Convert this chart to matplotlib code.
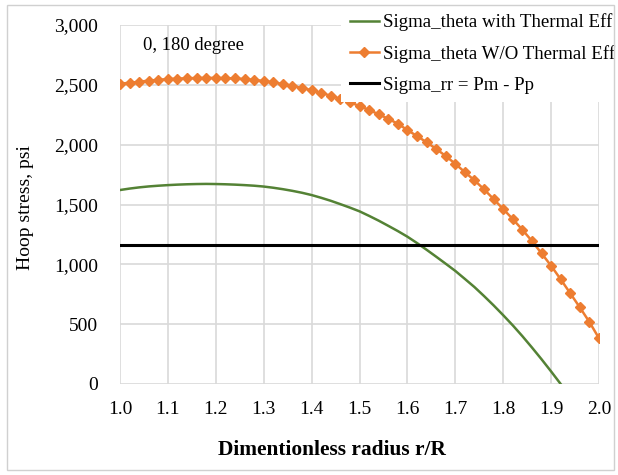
import matplotlib.pyplot as plt
import matplotlib.patches as patches
from matplotlib.ticker import FuncFormatter, MultipleLocator

# x positions (dimensionless radius r/R), step 0.02
r_ratio = [1.00, 1.02, 1.04, 1.06, 1.08, 1.10, 1.12, 1.14, 1.16, 1.18,
           1.20, 1.22, 1.24, 1.26, 1.28, 1.30, 1.32, 1.34, 1.36, 1.38,
           1.40, 1.42, 1.44, 1.46, 1.48, 1.50, 1.52, 1.54, 1.56, 1.58,
           1.60, 1.62, 1.64, 1.66, 1.68, 1.70, 1.72, 1.74, 1.76, 1.78,
           1.80, 1.82, 1.84, 1.86, 1.88, 1.90, 1.92, 1.94, 1.96, 1.98,
           2.00]

# hoop stress with thermal effect (psi)
sigma_thermal = [1621, 1633, 1643, 1651, 1657, 1662, 1666, 1669, 1671, 1672,
                 1671, 1669, 1666, 1662, 1657, 1650, 1640, 1628, 1614, 1598,
                 1579, 1556, 1531, 1503, 1474, 1443, 1405, 1365, 1322, 1278,
                 1231, 1178, 1122, 1064, 1005, 945, 878, 810, 735, 657,
                 575, 490, 400, 305, 207, 105, 0, -110, -225, -345,
                 -470]

# hoop stress without thermal effect (psi)
sigma_no_thermal = [2510, 2517, 2526, 2535, 2542, 2548, 2552, 2555, 2557, 2558,
                    2558, 2556, 2553, 2548, 2541, 2532, 2520, 2507, 2492, 2474,
                    2455, 2433, 2409, 2383, 2354, 2323, 2290, 2254, 2216, 2175,
                    2122, 2072, 2020, 1965, 1905, 1840, 1770, 1702, 1627, 1545,
                    1462, 1378, 1289, 1195, 1092, 988, 875, 758, 640, 518,
                    382]

# radial stress Pm - Pp (psi), constant
sigma_rr = 1161

labels = ["Sigma_theta with Thermal Eff",
          "Sigma_theta W/O Thermal Eff",
          "Sigma_rr = Pm - Pp"]

plt.rcParams['font.family'] = ['Liberation Serif', 'DejaVu Serif']

fig = plt.figure(figsize=(6.18, 4.75), dpi=100)
ax = fig.add_axes([120 / 618, 1 - 384 / 475, 479 / 618, 359 / 475])

l1, = ax.plot(r_ratio, sigma_thermal, color='#548235', linewidth=1.8)
l2, = ax.plot(r_ratio, sigma_no_thermal, color='#ED7D31', linewidth=1.8,
              marker='D', markersize=5)
l3 = ax.axhline(sigma_rr, color='black', linewidth=2.2)

ax.set_xlim(1.0, 2.0)
ax.set_ylim(0, 3000)
ax.xaxis.set_major_locator(MultipleLocator(0.1))
ax.yaxis.set_major_locator(MultipleLocator(500))
ax.xaxis.set_major_formatter(FuncFormatter(lambda v, p: f"{v:.1f}"))
ax.yaxis.set_major_formatter(FuncFormatter(lambda v, p: f"{v:,.0f}"))
ax.grid(True, color='#d9d9d9', linewidth=1.2)
ax.set_axisbelow(True)
for s in ax.spines.values():
    s.set_visible(False)
ax.tick_params(length=0, labelsize=14)
ax.tick_params(axis='y', pad=16)
ax.tick_params(axis='x', pad=12)

ax.text(1.048, 2832, "0, 180 degree", fontsize=13.4, va='center', ha='left')

fig.text(25 / 618, 1 - 208 / 475, "Hoop stress, psi", rotation=90,
         fontsize=14, ha='center', va='center')
fig.text(332 / 618, 1 - 450 / 475, "Dimentionless radius r/R",
         fontsize=15.4, fontweight='bold', ha='center', va='center')

leg = fig.legend([l1, l2, l3], labels, loc='upper left',
                 bbox_to_anchor=(341 / 618, 1 - 5 / 475), fontsize=13.6,
                 frameon=True, fancybox=False, framealpha=1,
                 edgecolor='none', facecolor='white',
                 handlelength=1.55, handletextpad=0.2, labelspacing=0.72,
                 borderpad=0.45, borderaxespad=0)

# outer chart border, drawn above the legend box
border = patches.Rectangle((7 / 618, 5 / 475), 607 / 618, 465 / 475,
                           transform=fig.transFigure, fill=False,
                           edgecolor='#d0d0d0', linewidth=1, zorder=10)
fig.add_artist(border)

fig.savefig("out.png", dpi=100)
